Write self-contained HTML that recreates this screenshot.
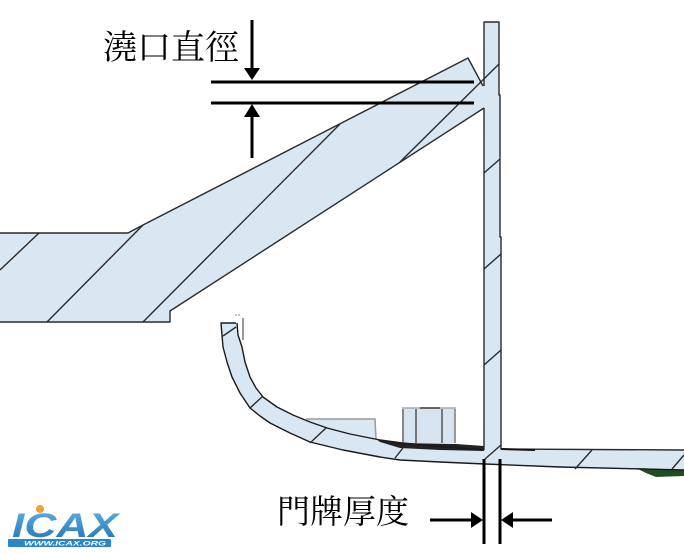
<!DOCTYPE html>
<html><head><meta charset="utf-8"><style>
html,body{margin:0;padding:0;background:#fff;}
svg{display:block;}
</style></head><body>
<svg width="684" height="554" viewBox="0 0 684 554" xmlns="http://www.w3.org/2000/svg">
<rect width="684" height="554" fill="#fff"/>
<!-- main fill -->
<path d="M0,233 L128,233 L143,225 L468,58 L483,86 L484,86 L484,22 L499,22 L499,95 L500,95 L500,237 L501,237 L501,449 L684,450 L684,470 L560,467 L485,464 L440,462 L400,460 L380,457 L343,450 L310,442 L290,433 L270,423 L260,416 L250,408 L240,393 L232,377 L227,362 L223,347 L222,335 L221,323 L236,323 L237,323 L238,335 L242,347 L245,362 L250,377 L256,388 L263,397 L277,407 L293,415 L310,422 L327,428 L350,434 L380,440 L402,443 L483,450 L484,450 L484,108 L170,311 L170,322 L0,322 Z" fill="#d9e7f3"/>
<!-- raised block -->
<path d="M306,419 L375,419 L376,439 L350,434 L327,428 L310,422 Z" fill="#dbe8f3"/>
<polyline points="306,419 375,419 376,439" fill="none" stroke="#9a9a9a" stroke-width="1.5"/>
<!-- nut -->
<rect x="402" y="408" width="54" height="35" fill="#d6e4f0"/>
<line x1="402" y1="408" x2="456" y2="408" stroke="#aaa" stroke-width="1.5"/>
<line x1="420" y1="408" x2="440" y2="408" stroke="#444" stroke-width="1.5"/>
<line x1="403" y1="409" x2="403" y2="443" stroke="#888" stroke-width="2"/>
<line x1="416" y1="409" x2="416" y2="443" stroke="#777" stroke-width="2"/>
<line x1="442" y1="409" x2="442" y2="443" stroke="#777" stroke-width="2"/>
<line x1="455" y1="409" x2="455" y2="443" stroke="#999" stroke-width="2"/>
<!-- black wedge -->
<path d="M376,439 L402,443 L456,444 L484,446 L484,451 L440,450 L400,448 L380,442 Z" fill="#222"/>
<!-- green wedge -->
<path d="M636,468 L684,470 L684,476 L656,477 L646,473 Z" fill="#1f4f1f"/>
<!-- outlines -->
<g fill="none" stroke="#2a2a2a" stroke-width="1.4" stroke-linejoin="round">
<polyline points="0,233 128,233 143,225 468,58 483,86"/>
<polyline points="0,322 170,322 170,311 484,108"/>
<polyline points="484,86 484,22 499,22 499,95 500,95 500,237 501,237 501,449 684,450"/>
<polyline points="484,108 484,450"/>
<polyline points="684,470 560,467 485,464 440,462 400,460 380,457 343,450 310,442 290,433 270,423 260,416 250,408 240,393 232,377 227,362 223,347 222,335 221,323 236,323" stroke="#1a1a1a"/>
<polyline points="237,323 238,335 242,347 245,362 250,377 256,388 263,397 277,407 293,415 310,422 327,428 350,434 380,440 402,443 483,450" stroke="#1a1a1a"/>
<line x1="243" y1="318" x2="243" y2="340" stroke="#555" stroke-width="1.2"/>
<!-- hatches -->
<line x1="0" y1="270" x2="39" y2="233"/>
<line x1="47" y1="322" x2="143" y2="225"/>
<line x1="143" y1="322" x2="340" y2="124"/>
<line x1="400" y1="162" x2="499" y2="64"/>
<line x1="484" y1="173" x2="500" y2="159"/>
<line x1="484" y1="269" x2="501" y2="254"/>
<line x1="484" y1="365" x2="501" y2="350"/>
<line x1="485" y1="459" x2="501" y2="445"/>
<line x1="575" y1="469" x2="592" y2="450"/>
<line x1="672" y1="469" x2="684" y2="455"/>
<line x1="250" y1="408" x2="263" y2="396"/>
<line x1="310" y1="443" x2="326" y2="428"/>
<line x1="395" y1="458" x2="403" y2="448"/>
<line x1="223" y1="336" x2="236" y2="327"/>
</g>
<line x1="501" y1="449" x2="535" y2="450" stroke="#111" stroke-width="2"/>
<circle cx="236" cy="315" r="0.8" fill="#777"/><circle cx="239" cy="315" r="0.8" fill="#777"/>
<!-- dimension: top -->
<g stroke="#000" stroke-width="3" fill="none">
<line x1="211" y1="82" x2="474" y2="82"/>
<line x1="211" y1="103" x2="474" y2="103"/>
<line x1="252" y1="20" x2="252" y2="70"/>
<line x1="252" y1="116" x2="252" y2="158"/>
<line x1="484" y1="459" x2="484" y2="544"/>
<line x1="500" y1="459" x2="500" y2="544"/>
<line x1="430" y1="520" x2="473" y2="520"/>
<line x1="511" y1="520" x2="552" y2="520"/>
</g>
<g fill="#000">
<polygon points="244,68 260,68 252,80"/>
<polygon points="252,104 244,117 260,117"/>
<polygon points="471,512 471,528 483,520"/>
<polygon points="501,520 513,512 513,528"/>
</g>
<text x="103" y="59" font-family="'Liberation Serif','Noto Serif CJK SC',serif" font-size="34" fill="#000">澆口直徑</text>
<text x="277" y="523" font-family="'Liberation Serif','Noto Serif CJK SC',serif" font-size="33" fill="#000">門牌厚度</text>
<!-- logo -->
<defs>
<linearGradient id="lg" x1="0" y1="0" x2="0" y2="1">
<stop offset="0" stop-color="#5fb3e6"/><stop offset="1" stop-color="#1f6fb5"/>
</linearGradient>
</defs>
<text x="12" y="537" font-family="'Liberation Sans',sans-serif" font-size="34" font-style="italic" font-weight="bold" fill="url(#lg)" textLength="106" lengthAdjust="spacingAndGlyphs">ICAX</text>
<circle cx="40" cy="509" r="4" fill="#f0a030"/>
<rect x="8" y="539" width="103" height="8" rx="1" fill="#2a86c8"/>
<text x="24" y="545.5" font-family="'Liberation Sans',sans-serif" font-size="6.5" font-weight="bold" font-style="italic" fill="#fff" textLength="82" lengthAdjust="spacingAndGlyphs">WWW.ICAX.ORG</text>
</svg>
</body></html>
